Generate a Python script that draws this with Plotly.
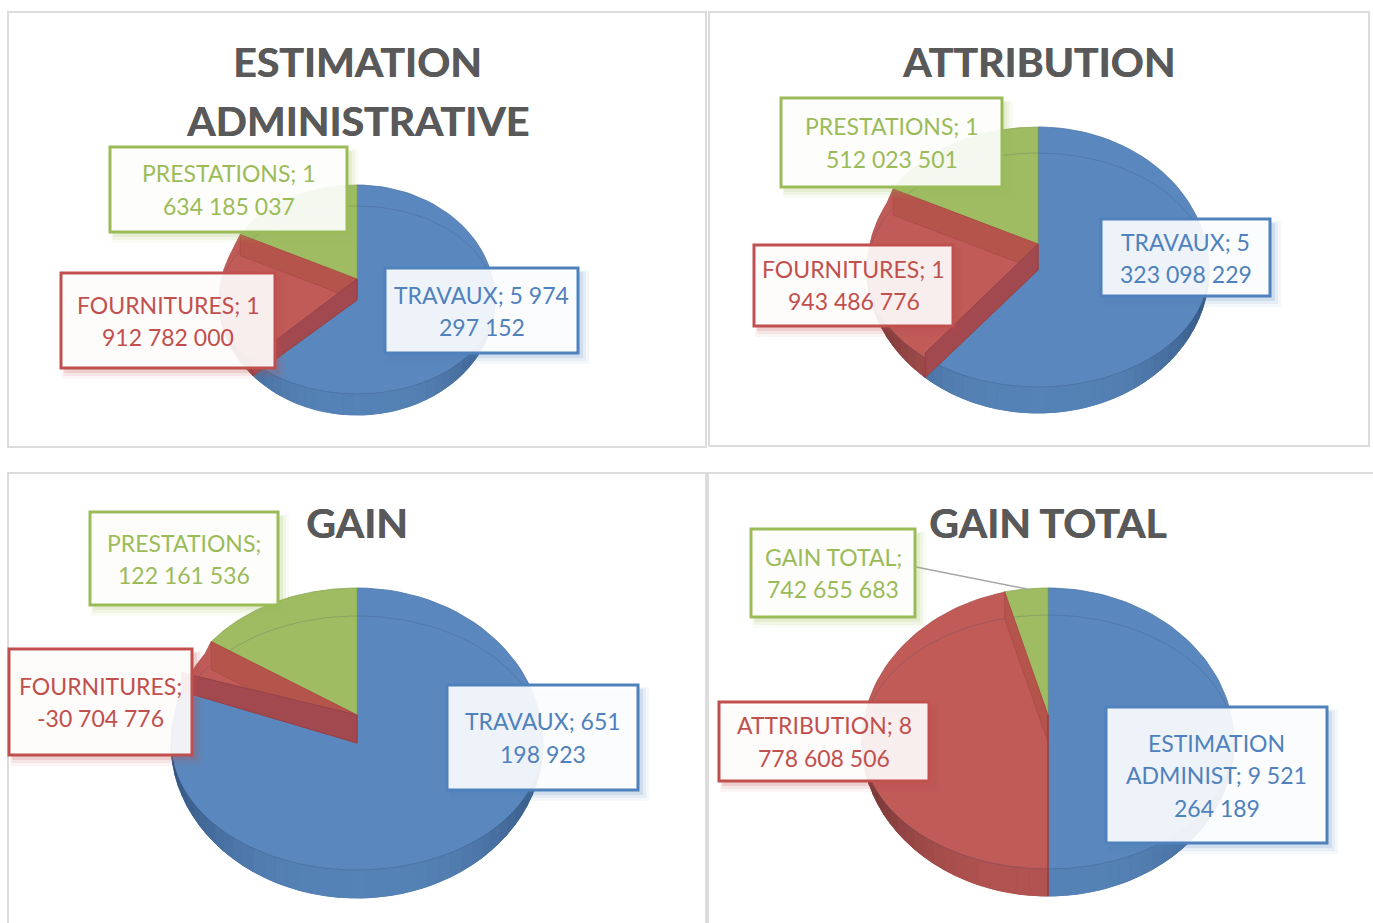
import numpy as np
import plotly.graph_objects as go

# ---------- data ----------
titles = [["ESTIMATION", "ADMINISTRATIVE"], ["ATTRIBUTION"], ["GAIN"], ["GAIN TOTAL"]]
values_estimation = [5974297152, 1912782000, 1634185037]
values_attribution = [5323098229, 1943486776, 1512023501]
values_gain = [651198923, -30704776, 122161536]
values_gain_total = [9521264189, 8778608506, 742655683]
labels_estimation = [["TRAVAUX; 5 974", "297 152"], ["FOURNITURES; 1", "912 782 000"], ["PRESTATIONS; 1", "634 185 037"]]
labels_attribution = [["TRAVAUX; 5", "323 098 229"], ["FOURNITURES; 1", "943 486 776"], ["PRESTATIONS; 1", "512 023 501"]]
labels_gain = [["TRAVAUX; 651", "198 923"], ["FOURNITURES;", "-30 704 776"], ["PRESTATIONS;", "122 161 536"]]
labels_gain_total = [["ESTIMATION", "ADMINIST; 9 521", "264 189"], ["ATTRIBUTION; 8", "778 608 506"], ["GAIN TOTAL;", "742 655 683"]]

# ---------- layout and style ----------
W, H = 1373, 923
BLUE, RED, GREEN = "#4f81bd", "#c0504d", "#9bbb59"
FACE = ["#5a87bd", "#c05b58", "#9fbc63"]
BAND_DARK = [(52, 86, 128), (112, 52, 52), (110, 135, 60)]
BAND_LIGHT = [(86, 131, 183), (178, 84, 82), (150, 178, 92)]
TXT = [BLUE, RED, GREEN]
FONT = "Lato"
TOP_RX = 0.96   # the upper face reads slightly narrower than the outline
charts = [
    dict(v=values_estimation, l=labels_estimation, t=titles[0], cx=357, cy=279, rx=138, ry=94, d=21,
         tx=357, ty=[61, 120],
         boxes=[(385, 268, 578, 353), (61, 273, 275, 368), (110, 147, 347, 232)],
         ly=[[295, 327], [305, 337], [173, 206]]),
    dict(v=values_attribution, l=labels_attribution, t=titles[1], cx=1038, cy=244, rx=171, ry=117, d=26,
         tx=1038, ty=[61],
         boxes=[(1101, 219, 1270, 296), (754, 245, 953, 326), (781, 98, 1002, 187)],
         ly=[[242, 274], [269, 301], [126, 159]]),
    dict(v=values_gain, l=labels_gain, t=titles[2], cx=357, cy=715, rx=186, ry=127, d=28,
         tx=357, ty=[522],
         boxes=[(447, 685, 638, 790), (9, 649, 192, 755), (90, 512, 278, 605)],
         ly=[[721, 754], [686, 718], [543, 575]]),
    dict(v=values_gain_total, l=labels_gain_total, t=titles[3], cx=1048, cy=715, rx=186, ry=127, d=27,
         tx=1048, ty=[522],
         boxes=[(1106, 707, 1327, 843), (719, 702, 929, 781), (751, 529, 915, 617)],
         ly=[[743, 775, 808], [725, 758], [557, 589]]),
]
panels = [(8, 12, 706, 447), (709, 12, 1369, 446), (8, 473, 706, 930), (708, 473, 1380, 930)]

fig = go.Figure()


def poly(xs, ys, color, line=None, width=0.8):
    fig.add_trace(go.Scatter(
        x=list(xs), y=list(ys), mode="lines", fill="toself", fillcolor=color,
        line=dict(color=line or color, width=width if line else 0.8),
        hoverinfo="skip", showlegend=False))


def pt(c, deg, cy, ry, k=1.0):
    r = np.radians(deg)
    return c["cx"] + k * c["rx"] * np.sin(r), cy - ry * np.cos(r)


def arc(c, a, b, cy, ry, n=90, k=1.0):
    r = np.radians(np.linspace(a, b, n))
    return c["cx"] + k * c["rx"] * np.sin(r), cy - ry * np.cos(r)


for c in charts:
    v = np.abs(np.array(c["v"], dtype=float))
    ang = np.cumsum(v) / v.sum() * 360
    a1, a2 = ang[0], ang[1]
    # foreshortening of the lower-left edge in the tilted view
    a1 = a1 + 3 * np.sin(np.radians(2 * (a1 - 180)))
    cx, cy, ry, d = c["cx"], c["cy"], c["ry"], c["d"]
    cl, rl = cy + d, ry + d   # lower, larger outline
    ci = cy + d               # inner rim line

    # blue face
    ax, ay = arc(c, 0, a1, cl, rl)
    poly([cx, *ax, cx, cx], [cy, *ay, cl, cy], FACE[0], "#4a74a8")
    # red face
    ax, ay = arc(c, a1, a2, cl, rl)
    px, py = pt(c, a2, cy, ry, TOP_RX)
    poly([cx, *ax, px, cx, cx], [cl, *ay, py, cy, cl], FACE[1], "#a94a48")
    # green face
    ax, ay = arc(c, a2, 360, cy, ry, k=TOP_RX)
    poly([cx, *ax, cx], [cy, *ay, cy], FACE[2], "#8aa650")

    # shaded side band, one strip per few degrees, split at the slice edges
    stops = sorted(set(list(np.arange(90, 270.1, 4.0)) + [a for a in (a1, a2) if 90 < a < 270]))
    for s, e in zip(stops[:-1], stops[1:]):
        mid = (s + e) / 2
        idx = 0 if mid < a1 else (1 if mid < a2 else 2)
        t = abs(np.sin(np.radians(mid))) ** 3
        col = [int(BAND_LIGHT[idx][i] + (BAND_DARK[idx][i] - BAND_LIGHT[idx][i]) * t) for i in range(3)]
        ox, oy = arc(c, s, e, cl, rl, 6)
        ix, iy = arc(c, e, s, ci, ry, 6)
        poly([*ox, *ix, ox[0]], [*oy, *iy, oy[0]], "rgb(%d,%d,%d)" % tuple(col))
    if 90 < a1 < 270:
        qx, qy = pt(c, a1, cl, rl)
        rx_, ry_ = pt(c, a1, ci, ry)
        fig.add_trace(go.Scatter(x=[qx, rx_], y=[qy, ry_], mode="lines", hoverinfo="skip", showlegend=False,
                                 line=dict(color="#8f4048", width=0.8)))

    # inner rim line
    ax, ay = arc(c, 0, 360, ci, ry, 181)
    fig.add_trace(go.Scatter(x=ax, y=ay, mode="lines", hoverinfo="skip", showlegend=False,
                             line=dict(color="rgba(50,70,110,0.22)", width=1)))

    # walls of the red slice
    px, py = pt(c, a2, cy, ry, TOP_RX)
    qx, qy = pt(c, a2, ci, ry, TOP_RX)
    poly([cx, px, qx, cx, cx], [cy, py, qy, cl, cy], "#b5544a", "#a94a48")
    px, py = pt(c, a1, cy + 0.8 * d if a1 < 270 else cy, ry)
    qx, qy = pt(c, a1, cl, rl)
    poly([cx, px, qx, cx, cx], [cy, py, qy, cl, cy], "#a2484f", "#8f4048")

# ---------- shapes ----------
shapes = []
for x0, y0, x1, y1 in panels:
    shapes.append(dict(type="rect", x0=x0, y0=y0, x1=x1, y1=y1, layer="below",
                       line=dict(color="#dcdcdc", width=2), fillcolor="white"))
shapes.append(dict(type="line", x0=916, y0=567, x1=1027, y1=589, layer="above",
                   line=dict(color="#a6a6a6", width=1.5)))

annotations = []
for c in charts:
    for tl, ty in zip(c["t"], c["ty"]):
        annotations.append(dict(x=c["tx"], y=ty, text="<b>%s</b>" % tl, showarrow=False, xref="x", yref="y",
                                font=dict(family=FONT, size=41, color="#595959", shadow="0.6px 0 0 #595959"),
                                xanchor="center", yanchor="middle"))
    for i in range(3):
        x0, y0, x1, y1 = c["boxes"][i]
        # soft shadow
        for g, op in ((11, 0.06), (8, 0.09), (5, 0.14)):
            shapes.append(dict(type="rect", x0=x0 + 5 - g / 3, y0=y0 + 6 - g / 3, x1=x1 + g, y1=y1 + g,
                               layer="above", line=dict(width=0), fillcolor=TXT[i], opacity=op))
        shapes.append(dict(type="rect", x0=x0, y0=y0, x1=x1, y1=y1, layer="above",
                           line=dict(color=TXT[i], width=3), fillcolor="rgba(255,255,255,0.9)"))
        for txt, ly in zip(c["l"][i], c["ly"][i]):
            annotations.append(dict(x=(x0 + x1) / 2, y=ly, text=txt, showarrow=False, xref="x", yref="y",
                                    font=dict(family=FONT, size=23, color=TXT[i]),
                                    xanchor="center", yanchor="middle"))

fig.update_layout(
    width=W, height=H, margin=dict(l=0, r=0, t=0, b=0), autosize=False,
    paper_bgcolor="white", plot_bgcolor="white", showlegend=False,
    xaxis=dict(range=[0, W], visible=False, fixedrange=True),
    yaxis=dict(range=[H, 0], visible=False, fixedrange=True),
    shapes=shapes, annotations=annotations,
)

fig.write_html("out.html", config=dict(displayModeBar=False),
               post_script="document.body.style.margin='0';document.body.style.overflow='hidden';")
